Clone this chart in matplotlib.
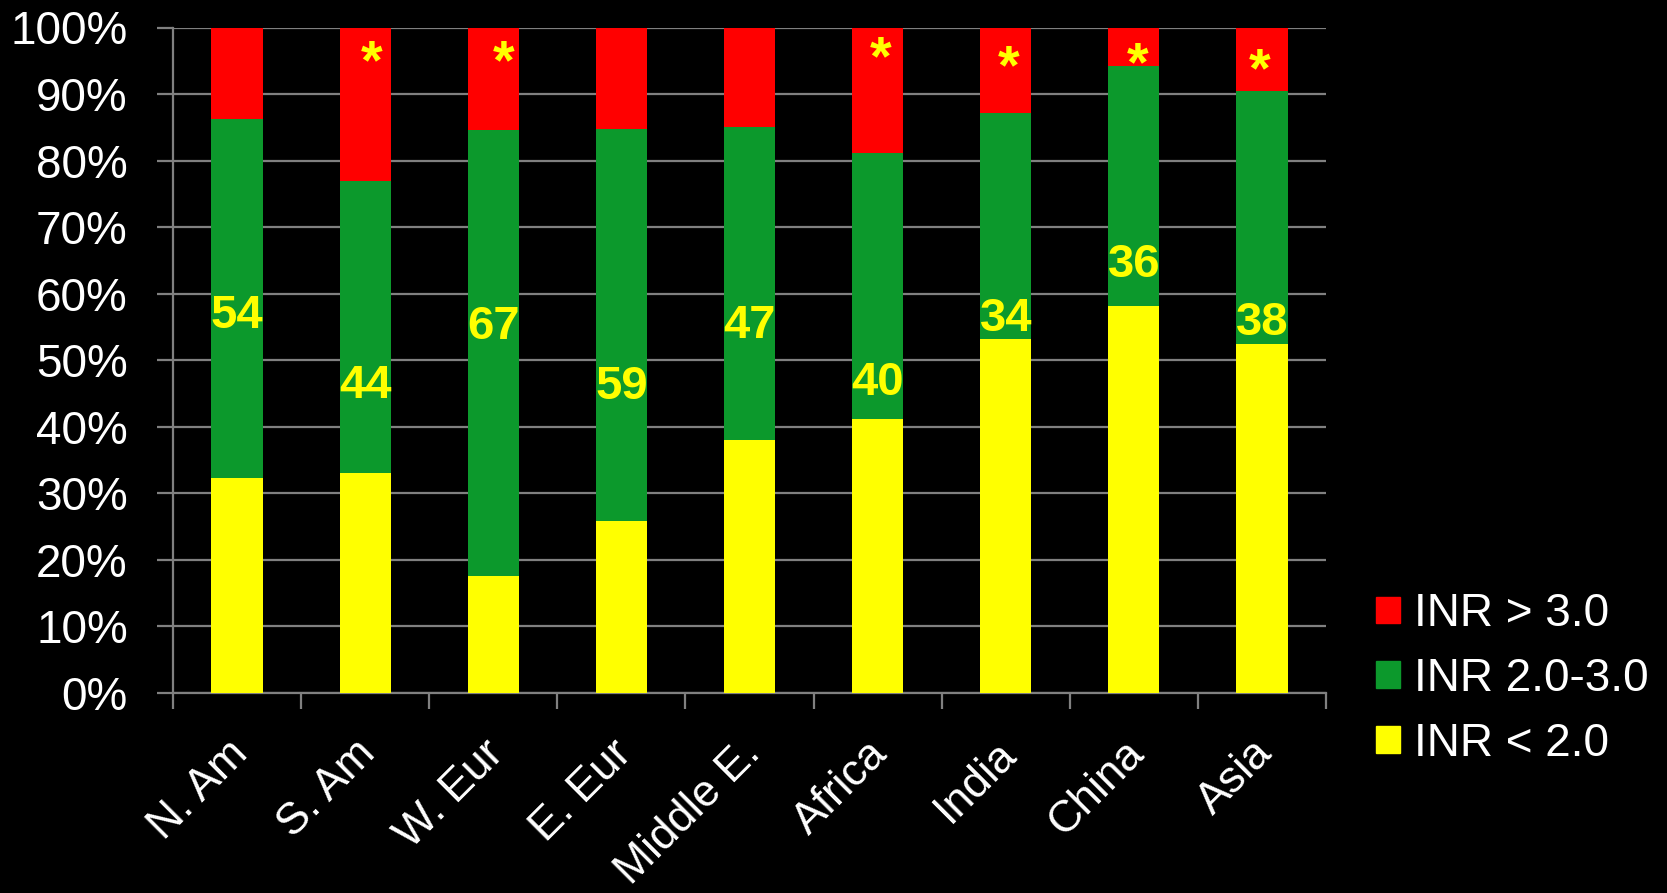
import matplotlib
matplotlib.use("Agg")
import matplotlib.pyplot as plt
from matplotlib import font_manager
from matplotlib.patches import Patch
from matplotlib.ticker import FixedLocator, PercentFormatter
from matplotlib.transforms import ScaledTranslation
import numpy as np

# Share of time in each INR range, by region (percent)
regions = ["N. Am", "S. Am", "W. Eur", "E. Eur", "Middle E.",
           "Africa", "India", "China", "Asia"]
inr_below_2 = [32.3, 33.0, 17.6, 25.8, 38.0, 41.2, 53.2, 58.2, 52.5]
inr_2_to_3 = [54, 44, 67, 59, 47, 40, 34, 36, 38]
inr_above_3 = [13.7, 23.0, 15.4, 15.2, 15.0, 18.8, 12.8, 5.8, 9.5]
series_labels = ["INR < 2.0", "INR 2.0-3.0", "INR > 3.0"]

# Regions flagged as significantly different
flagged = ["S. Am", "W. Eur", "Africa", "India", "China", "Asia"]

# Placement of the annotations (percent height, x nudge in bar units)
value_label_y = [57.4, 46.9, 55.7, 46.7, 55.9, 47.3, 57.0, 65.1, 56.4]
star_y = [96.4, 96.4, 97.0, 95.7, 96.1, 95.2]
star_dx = [0.05, 0.08, 0.02, 0.02, 0.03, -0.02]

RED = "#FF0000"
GREEN = "#0C992C"
YELLOW = "#FFFF00"
GRID = "#808080"
FONT = "Liberation Sans"

plt.rcParams["font.family"] = [FONT, "DejaVu Sans"]

# Condensed bold for the segment values when available
installed = {f.name for f in font_manager.fontManager.ttflist}
if "Liberation Sans Narrow" in installed:
    value_font, value_size = "Liberation Sans Narrow", 40
else:
    value_font, value_size = FONT, 34

fig = plt.figure(figsize=(16.67, 8.93), dpi=100, facecolor="black")
ax = fig.add_axes([173 / 1667, 1 - 693 / 893, (1326 - 173) / 1667, (693 - 27.5) / 893])
ax.set_facecolor("black")

x = np.arange(len(regions))
w = 0.4
below = np.array(inr_below_2, dtype=float)
mid = np.array(inr_2_to_3, dtype=float)
above = np.array(inr_above_3, dtype=float)

ax.bar(x, below, w, color=YELLOW, label=series_labels[0], zorder=3)
ax.bar(x, mid, w, bottom=below, color=GREEN, label=series_labels[1], zorder=3)
ax.bar(x, above, w, bottom=below + mid, color=RED, label=series_labels[2], zorder=3)

# Values of the therapeutic-range segment: anchor on the baseline and
# drop by half the digit height so the digits are centred on the given height
digit_drop = ScaledTranslation(0, -0.358 * value_size / 72, fig.dpi_scale_trans)
for xi, v, yl in zip(x, inr_2_to_3, value_label_y):
    ax.text(xi, yl, f"{v}", color=YELLOW, fontsize=value_size, fontweight="bold",
            family=[value_font, FONT], ha="center", va="baseline", zorder=5,
            transform=ax.transData + digit_drop)

# Significance markers: the asterisk glyph sits high in the em box,
# so anchor on the baseline and drop it by the glyph's centre height
star_size = 40
star_drop = ScaledTranslation(0, -0.48 * star_size / 72, fig.dpi_scale_trans)
for name, ys, dx in zip(flagged, star_y, star_dx):
    xi = regions.index(name)
    ax.text(xi + dx, ys, "*", color=YELLOW, fontsize=star_size, fontweight="bold",
            ha="center", va="baseline", zorder=5,
            transform=ax.transData + star_drop)

ax.set_xlim(-0.5, len(regions) - 0.5)
ax.set_ylim(0, 100)

# Y axis: percentages with horizontal gridlines
ax.yaxis.set_major_locator(FixedLocator(np.arange(0, 101, 10)))
ax.yaxis.set_major_formatter(PercentFormatter(decimals=0))
ax.grid(axis="y", color=GRID, linewidth=1.6, zorder=0)
ax.tick_params(axis="y", colors=GRID, length=11.5, width=1.6, direction="out",
               pad=21, labelsize=33, labelcolor="white")

# X axis: category labels at centres, tick marks between categories
ax.set_xticks(x)
ax.set_xticks(np.arange(-0.5, len(regions), 1.0), minor=True)
ax.tick_params(axis="x", which="major", length=0, pad=39, labelsize=32,
               labelcolor="white")
ax.tick_params(axis="x", which="minor", length=11.5, width=1.6, colors=GRID,
               direction="out")
ax.set_xticklabels(regions)
shift = ScaledTranslation(4 / 100, 0, fig.dpi_scale_trans)
for lab in ax.get_xticklabels():
    lab.set_rotation(45)
    lab.set_rotation_mode("anchor")
    lab.set_ha("right")
    lab.set_va("center")
    lab.set_transform(lab.get_transform() + shift)

for side in ("top", "right"):
    ax.spines[side].set_visible(False)
for side in ("left", "bottom"):
    ax.spines[side].set_color(GRID)
    ax.spines[side].set_linewidth(1.6)

handles = [Patch(color=RED), Patch(color=GREEN), Patch(color=YELLOW)]
fig.legend(handles, [series_labels[2], series_labels[1], series_labels[0]],
           loc="center left", bbox_to_anchor=(1376 / 1667, 1 - 679 / 893),
           bbox_transform=fig.transFigure, frameon=False, fontsize=33,
           labelcolor="white", handlelength=0.52, handleheight=0.52,
           handletextpad=0.3, labelspacing=0.45, borderpad=0, borderaxespad=0)

fig.savefig("out.png", dpi=100, facecolor="black")
